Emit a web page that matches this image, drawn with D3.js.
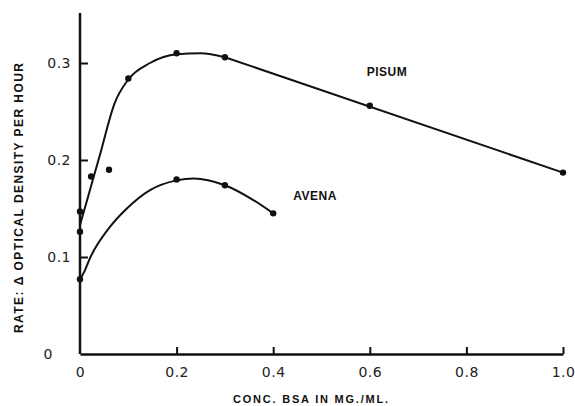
<!DOCTYPE html>
<html>
<head>
<meta charset="utf-8">
<script src="https://cdn.jsdelivr.net/npm/d3@7"></script>
<style>
  body { margin: 0; background: #fff; }
  svg { display: block; }
</style>
</head>
<body>
<svg id="plot" width="575" height="406"></svg>
<script>
// Measured points (conc. BSA mg/ml, rate)
const pisumPoints = [[0, 0.147], [0.023, 0.183], [0.06, 0.19], [0.1, 0.284], [0.2, 0.31], [0.3, 0.306], [0.6, 0.256], [1.0, 0.187]];
const avenaPoints = [[0, 0.126], [0, 0.077], [0.2, 0.18], [0.3, 0.174], [0.4, 0.145]];

// Hand-drawn fitted curves
const pisumCurve = [[0, 0.133], [0.008, 0.147], [0.04, 0.203], [0.072, 0.259], [0.1, 0.283], [0.145, 0.3], [0.2, 0.309], [0.25, 0.31], [0.3, 0.306]];
const pisumTail = [[0.3, 0.306], [1.0, 0.187]];
const avenaCurve = [[0, 0.077], [0.01, 0.086], [0.02, 0.098], [0.062, 0.131], [0.097, 0.15], [0.145, 0.169], [0.2, 0.179], [0.235, 0.181], [0.3, 0.174], [0.358, 0.159], [0.4, 0.145]];

const xTicks = [0, 0.2, 0.4, 0.6, 0.8, 1.0];
const xTickLabels = ['0', '0.2', '0.4', '0.6', '0.8', '1.0'];
const yTicks = [0, 0.1, 0.2, 0.3];
const yTickLabels = ['0', '0.1', '0.2', '0.3'];

const svg = d3.select('#plot');

const xScale = d3.scaleLinear().domain([0, 1]).range([80, 563]);
const yScale = d3.scaleLinear().domain([0, 0.35]).range([354, 14.5]);

// Fitted lines
const smooth = d3.line()
    .x(d => xScale(d[0]))
    .y(d => yScale(d[1]))
    .curve(d3.curveMonotoneX);

const straight = d3.line()
    .x(d => xScale(d[0]))
    .y(d => yScale(d[1]));

[smooth(pisumCurve), straight(pisumTail), smooth(avenaCurve)].forEach(p => {
    svg.append('path')
        .attr('d', p)
        .attr('fill', 'none')
        .attr('stroke', '#111')
        .attr('stroke-width', 2)
        .attr('stroke-linejoin', 'round');
});

// Axes
const xAxis = d3.axisBottom(xScale)
    .tickValues(xTicks)
    .tickFormat((d, i) => xTickLabels[i])
    .tickSize(-7)
    .tickSizeOuter(0)
    .tickPadding(13);

const gx = svg.append('g')
    .attr('transform', 'translate(0,354)')
    .call(xAxis);

const yAxis = d3.axisLeft(yScale)
    .tickValues(yTicks)
    .tickFormat((d, i) => yTickLabels[i])
    .tickSize(-8)
    .tickSizeOuter(0)
    .tickPadding(9);

const gy = svg.append('g')
    .attr('transform', 'translate(80,0)')
    .call(yAxis);

[gx, gy].forEach(g => {
    g.select('.domain').attr('stroke', '#111').attr('stroke-width', 2.5);
    g.selectAll('.tick line').attr('stroke', '#111').attr('stroke-width', 2);
    g.selectAll('.tick text')
        .attr('fill', '#222')
        .style('font-family', '"DejaVu Sans", sans-serif')
        .style('font-size', '14px')
        .style('letter-spacing', '0.5px');
});

// the y-axis "0" sits further out and has no tick
gy.selectAll('.tick').filter(d => d === 0).select('line').remove();
gy.selectAll('.tick').filter(d => d === 0).select('text').attr('x', -27);
gx.selectAll('.tick').filter(d => d === 0).select('line').remove();

// extend y axis domain to the top of the frame
gy.select('.domain').attr('d', 'M0,354V13');

// Points
svg.selectAll('circle.pisum')
    .data(pisumPoints)
    .enter()
    .append('circle')
    .attr('class', 'pisum')
    .attr('cx', d => xScale(d[0]))
    .attr('cy', d => yScale(d[1]))
    .attr('r', 3.2)
    .attr('fill', '#111');

svg.selectAll('circle.avena')
    .data(avenaPoints)
    .enter()
    .append('circle')
    .attr('class', 'avena')
    .attr('cx', d => xScale(d[0]))
    .attr('cy', d => yScale(d[1]))
    .attr('r', 3.2)
    .attr('fill', '#111');

// Series labels
const labelFont = 'font-family: "Liberation Sans", Arial, sans-serif; font-weight: bold; font-size: 12px; letter-spacing: 0.5px;';

svg.append('text')
    .attr('x', 387)
    .attr('y', 76)
    .attr('text-anchor', 'middle')
    .attr('style', labelFont)
    .attr('fill', '#111')
    .text('PISUM');

svg.append('text')
    .attr('x', 315)
    .attr('y', 200)
    .attr('text-anchor', 'middle')
    .attr('style', labelFont)
    .attr('fill', '#111')
    .text('AVENA');

// Axis titles
svg.append('text')
    .attr('x', 233)
    .attr('y', 403)
    .attr('textLength', 155)
    .attr('lengthAdjust', 'spacing')
    .attr('style', 'font-family: "Liberation Sans", Arial, sans-serif; font-weight: bold; font-size: 11px;')
    .attr('fill', '#111')
    .text('CONC. BSA IN MG./ML.');

svg.append('text')
    .attr('transform', 'translate(23,333) rotate(-90)')
    .attr('x', 0)
    .attr('y', 0)
    .attr('textLength', 270)
    .attr('lengthAdjust', 'spacing')
    .attr('style', 'font-family: "Liberation Sans", Arial, sans-serif; font-weight: bold; font-size: 12px;')
    .attr('fill', '#111')
    .text('RATE: \u0394 OPTICAL DENSITY PER HOUR');
</script>
</body>
</html>
